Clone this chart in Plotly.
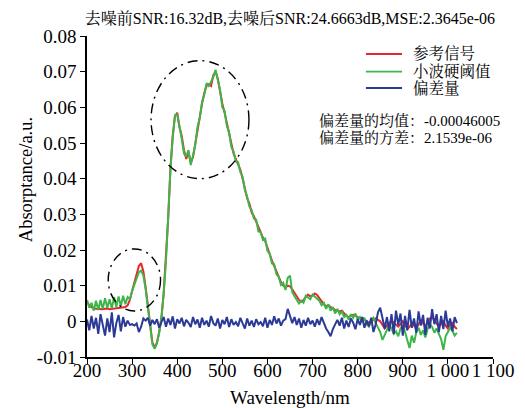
import plotly.graph_objects as go

# Wavelength grid (nm), one sample every 5 nm
WAVELENGTH = list(range(200, 1021, 5))

# Reference spectrum (参考信号)
REFERENCE = [
    0.0055, 0.0045, 0.0040, 0.0036, 0.0035, 0.0034, 0.0035, 0.0034, 0.0035, 0.0036,
    0.0034, 0.0035, 0.0036, 0.0035, 0.0036, 0.0037, 0.0038, 0.0040, 0.0045, 0.0060,
    0.0085, 0.0110, 0.0135, 0.0155, 0.0163, 0.0140, 0.0095, 0.0040, -0.0020, -0.0060,
    -0.0073, -0.0060, -0.0030, 0.0010, 0.0080, 0.0170, 0.0290, 0.0430, 0.0520, 0.0575,
    0.0585, 0.0545, 0.0520, 0.0480, 0.0455, 0.0475, 0.0445, 0.0460, 0.0500, 0.0540,
    0.0575, 0.0610, 0.0640, 0.0660, 0.0665, 0.0660, 0.0690, 0.0700, 0.0680, 0.0640,
    0.0610, 0.0585, 0.0555, 0.0525, 0.0495, 0.0470, 0.0455, 0.0440, 0.0425, 0.0400,
    0.0375, 0.0345, 0.0330, 0.0305, 0.0295, 0.0280, 0.0260, 0.0245, 0.0235, 0.0225,
    0.0205, 0.0185, 0.0170, 0.0155, 0.0140, 0.0120, 0.0110, 0.0100, 0.0095, 0.0100,
    0.0098, 0.0090, 0.0080, 0.0070, 0.0060, 0.0055, 0.0060, 0.0068, 0.0075, 0.0070,
    0.0072, 0.0078, 0.0074, 0.0065, 0.0055, 0.0048, 0.0042, 0.0045, 0.0040, 0.0035,
    0.0032, 0.0030, 0.0028, 0.0030, 0.0022, 0.0015, 0.0012, 0.0015, 0.0018, 0.0016,
    0.0012, 0.0008, 0.0010, 0.0006, 0.0002, -0.0004, 0.0000, 0.0005, 0.0008, 0.0004,
    0.0000, -0.0010, -0.0020, -0.0012, -0.0005, 0.0002, -0.0004, -0.0010, -0.0015, -0.0008,
    0.0000, -0.0010, -0.0022, -0.0015, -0.0005, -0.0012, -0.0020, -0.0008, 0.0002, -0.0006,
    -0.0012, -0.0005, 0.0008, 0.0012, 0.0004, -0.0006, -0.0015, -0.0008, 0.0000, -0.0012,
    -0.0020, -0.0010, -0.0004, -0.0015, -0.0022,
]

# Wavelet hard-threshold denoised spectrum (小波硬阈值)
DENOISED = [
    0.0060, 0.0038, 0.0052, 0.0030, 0.0058, 0.0032, 0.0060, 0.0035, 0.0065, 0.0038,
    0.0062, 0.0036, 0.0068, 0.0040, 0.0070, 0.0042, 0.0072, 0.0048, 0.0068, 0.0062,
    0.0085, 0.0102, 0.0122, 0.0138, 0.0142, 0.0128, 0.0090, 0.0035, -0.0025, -0.0065,
    -0.0077, -0.0062, -0.0032, 0.0010, 0.0078, 0.0168, 0.0292, 0.0428, 0.0515, 0.0578,
    0.0580, 0.0550, 0.0512, 0.0470, 0.0462, 0.0480, 0.0438, 0.0465, 0.0495, 0.0545,
    0.0570, 0.0615, 0.0635, 0.0668, 0.0660, 0.0672, 0.0685, 0.0705, 0.0672, 0.0648,
    0.0600, 0.0590, 0.0548, 0.0530, 0.0488, 0.0476, 0.0448, 0.0446, 0.0418, 0.0405,
    0.0368, 0.0350, 0.0322, 0.0312, 0.0288, 0.0285, 0.0252, 0.0250, 0.0228, 0.0232,
    0.0198, 0.0190, 0.0162, 0.0160, 0.0132, 0.0125, 0.0102, 0.0108, 0.0088, 0.0122,
    0.0128, 0.0082, 0.0070, 0.0058, 0.0050, 0.0058, 0.0052, 0.0072, 0.0068, 0.0062,
    0.0075, 0.0070, 0.0065, 0.0058, 0.0045, 0.0052, 0.0035, 0.0048, 0.0030, 0.0040,
    0.0022, 0.0035, 0.0020, 0.0028, 0.0012, 0.0018, 0.0005, 0.0020, 0.0010, 0.0022,
    0.0005, 0.0012, -0.0002, 0.0010, -0.0008, -0.0015, 0.0002, 0.0010, -0.0005, -0.0018,
    -0.0030, -0.0052, -0.0038, -0.0025, -0.0010, -0.0020, -0.0035, -0.0028, -0.0042, -0.0020,
    -0.0012, -0.0030, -0.0055, -0.0075, -0.0040, -0.0060, -0.0030, -0.0018, -0.0038, -0.0025,
    -0.0045, -0.0022, -0.0008, -0.0015, -0.0032, -0.0020, -0.0035, -0.0050, -0.0080, -0.0042,
    -0.0030, -0.0018, -0.0025, -0.0040, -0.0032,
]

# Deviation (偏差量)
DEVIATION = [
    0.0005, -0.0025, 0.0015, -0.0020, 0.0010, -0.0035, 0.0020, -0.0012, -0.0040, 0.0008,
    -0.0030, 0.0025, -0.0045, -0.0005, 0.0018, -0.0028, 0.0012, -0.0015, 0.0002, -0.0010,
    -0.0008, -0.0012, -0.0006, -0.0030, -0.0015, 0.0008, 0.0002, 0.0010, -0.0012, 0.0004,
    -0.0008, 0.0006, -0.0018, -0.0002, 0.0012, -0.0015, 0.0008, -0.0010, 0.0014, -0.0020,
    0.0006, -0.0006, 0.0010, -0.0014, 0.0004, -0.0004, -0.0016, 0.0012, -0.0008, 0.0005,
    -0.0018, 0.0010, -0.0010, 0.0002, -0.0015, 0.0015, -0.0005, -0.0012, 0.0008, -0.0020,
    0.0004, -0.0008, 0.0012, -0.0016, 0.0006, -0.0010, -0.0002, -0.0014, 0.0010, -0.0006,
    -0.0020, 0.0008, -0.0012, 0.0002, -0.0016, 0.0006, -0.0008, -0.0002, -0.0014, 0.0010,
    -0.0018, 0.0004, -0.0010, 0.0014, -0.0006, 0.0008, -0.0012, 0.0002, 0.0006, 0.0035,
    0.0015, -0.0005, 0.0012, -0.0010, 0.0008, -0.0018, 0.0004, -0.0012, 0.0010, -0.0008,
    0.0002, -0.0015, 0.0006, -0.0010, 0.0012, -0.0006, -0.0020, -0.0030, -0.0042, -0.0022,
    -0.0010, 0.0004, -0.0012, 0.0010, -0.0020, 0.0002, -0.0016, 0.0008, -0.0004, -0.0022,
    0.0006, -0.0010, 0.0012, -0.0018, 0.0002, -0.0014, 0.0010, -0.0030, -0.0008, 0.0025,
    0.0038, 0.0005, -0.0020, 0.0012, -0.0028, 0.0020, -0.0035, 0.0030, -0.0010, 0.0022,
    -0.0040, 0.0015, -0.0025, 0.0032, -0.0018, 0.0008, -0.0032, 0.0028, -0.0012, 0.0018,
    -0.0038, 0.0010, -0.0020, 0.0034, -0.0008, 0.0020, -0.0030, 0.0015, -0.0022, 0.0030,
    -0.0015, 0.0008, -0.0028, 0.0012, -0.0005,
]

SERIES_NAMES = ["参考信号", "小波硬阈值", "偏差量"]
SERIES_COLORS = ["#e8262c", "#3db54a", "#2b3a97"]

X_TICKS = [200, 300, 400, 500, 600, 700, 800, 900, 1000, 1100]
X_TICK_LABELS = ["200", "300", "400", "500", "600", "700", "800", "900", "1 000", "1 100"]
Y_TICKS = [-0.01, 0, 0.01, 0.02, 0.03, 0.04, 0.05, 0.06, 0.07, 0.08]
Y_TICK_LABELS = ["-0.01", "0", "0.01", "0.02", "0.03", "0.04", "0.05", "0.06", "0.07", "0.08"]

TITLE = "去噪前SNR:16.32dB,去噪后SNR:24.6663dB,MSE:2.3645e-06"
STATS = ["偏差量的均值：-0.00046005", "偏差量的方差：2.1539e-06"]

SERIF = "Liberation Serif, Times New Roman, Noto Serif CJK SC, Noto Sans CJK SC, serif"

fig = go.Figure()
for values, name, color in zip([REFERENCE, DENOISED, DEVIATION], SERIES_NAMES, SERIES_COLORS):
    fig.add_trace(go.Scatter(
        x=WAVELENGTH, y=values, mode="lines", name=name,
        line=dict(color=color, width=2), showlegend=False,
    ))

# dash-dot ellipses marking the two absorption features
for x0, x1, y0, y1 in [(342, 559, 0.0400, 0.0731), (247, 363, 0.0029, 0.0203)]:
    fig.add_shape(type="circle", xref="x", yref="y", x0=x0, x1=x1, y0=y0, y1=y1,
                  line=dict(color="black", width=1.4, dash="10px,5px,2px,5px"))

# compact legend: short coloured strokes with labels
legend_rows = [0.944, 0.889, 0.838]
for name, color, yy in zip(SERIES_NAMES, SERIES_COLORS, legend_rows):
    fig.add_shape(type="line", xref="paper", yref="paper", x0=0.687, x1=0.776, y0=yy, y1=yy,
                  line=dict(color=color, width=1.8))
    fig.add_annotation(xref="paper", yref="paper", x=0.797, y=yy, text=name,
                       showarrow=False, xanchor="left", yanchor="middle",
                       font=dict(family=SERIF, size=15.5, color="black"))

for text, yy in zip(STATS, [0.738, 0.682]):
    fig.add_annotation(xref="paper", yref="paper", x=0.566, y=yy, text=text,
                       showarrow=False, xanchor="left", yanchor="middle",
                       font=dict(family=SERIF, size=15, color="black"))

# axis titles
fig.add_annotation(xref="paper", yref="paper", x=-0.150, y=0.551, text="Absorptance/a.u.",
                   textangle=-90, showarrow=False, xanchor="center", yanchor="middle",
                   font=dict(family=SERIF, size=18.5, color="black"))
fig.add_annotation(xref="paper", yref="paper", x=0.5, y=-0.125, text="Wavelength/nm",
                   showarrow=False, xanchor="center", yanchor="middle",
                   font=dict(family=SERIF, size=19, color="black"))

fig.update_layout(
    width=525, height=408,
    margin=dict(l=87, r=32, t=36, b=51),
    paper_bgcolor="white", plot_bgcolor="white",
    font=dict(family=SERIF, size=19, color="black"),
    title=dict(text=TITLE, x=0.5, xref="paper", xanchor="center",
               y=1 - 18 / 408, yref="container", yanchor="middle",
               font=dict(family=SERIF, size=16, color="black")),
)
fig.update_xaxes(
    range=[200, 1100], tickvals=X_TICKS, ticktext=X_TICK_LABELS,
    showline=True, linecolor="black", linewidth=1.5, mirror=False,
    ticks="outside", ticklen=5, tickwidth=1.3, tickcolor="black",
    ticklabelstandoff=-10,
    showgrid=False, zeroline=False, automargin=False,
)
fig.update_yaxes(
    range=[-0.01, 0.08], tickvals=Y_TICKS, ticktext=Y_TICK_LABELS,
    showline=True, linecolor="black", linewidth=1.5, mirror=False,
    ticks="outside", ticklen=5, tickwidth=1.3, tickcolor="black",
    showgrid=False, zeroline=False, automargin=False,
)

fig.write_html("out.html")
